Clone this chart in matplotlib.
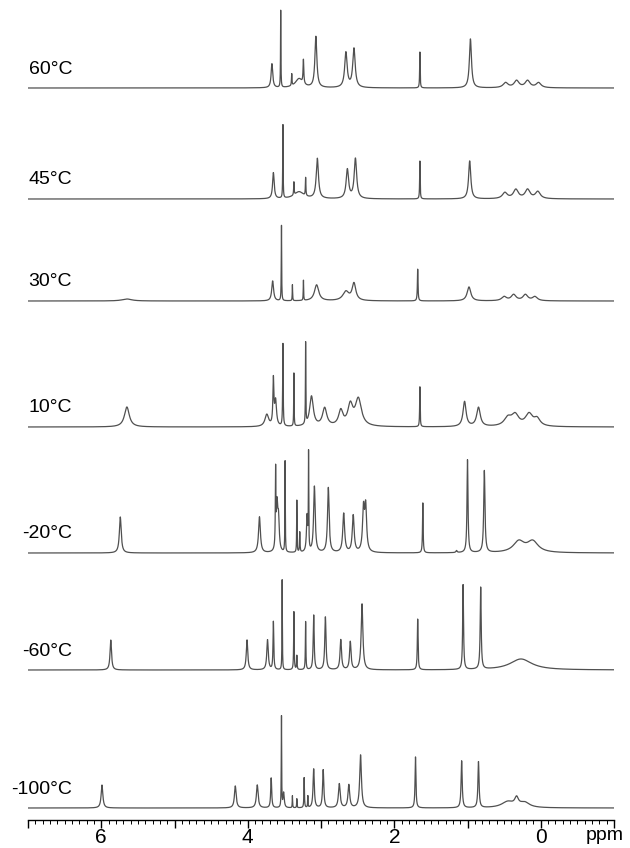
import numpy as np
import matplotlib
matplotlib.use("Agg")
import matplotlib.pyplot as plt
import matplotlib.transforms as mtransforms
from matplotlib.ticker import MultipleLocator

plt.rcParams['font.family'] = ['Liberation Sans', 'DejaVu Sans']

# temperature labels, top to bottom
temps = ['60°C', '45°C', '30°C', '10°C', '-20°C', '-60°C', '-100°C']

# peaks: shift (ppm), height (px), half width (ppm)
pos_60 = [3.67, 3.55, 3.40, 3.30, 3.24, 3.07, 2.66, 2.55, 1.65, 0.96, 0.48, 0.33, 0.18, 0.03]
amp_60 = [24, 77, 12, 9, 24, 51, 35, 39, 36, 49, 5, 7, 7, 5]
wid_60 = [.013, .003, .004, .06, .006, .016, .02, .02, .004, .017, .04, .04, .04, .04]

pos_45 = [3.65, 3.52, 3.37, 3.30, 3.21, 3.05, 2.64, 2.53, 1.65, 0.97, 0.49, 0.34, 0.18, 0.04]
amp_45 = [26, 76, 13, 7, 18, 40, 29, 40, 38, 38, 6, 9, 9, 7]
wid_45 = [.013, .003, .004, .08, .004, .018, .02, .02, .004, .018, .04, .04, .04, .04]

pos_30 = [5.65, 3.66, 3.54, 3.39, 3.24, 3.06, 2.66, 2.55, 1.68, 0.98, 0.50, 0.37, 0.21, 0.08]
amp_30 = [2, 20, 78, 16, 21, 16, 9, 17, 32, 14, 4, 6, 6, 4]
wid_30 = [.08, .015, .003, .003, .003, .035, .05, .03, .005, .03, .04, .04, .04, .04]

pos_10 = [5.65, 3.74, 3.65, 3.62, 3.52, 3.37, 3.21, 3.13, 2.95, 2.73, 2.60, 2.49, 1.65, 1.04, 0.85,
          0.45, 0.35, 0.16, 0.05]
amp_10 = [20, 12, 45, 25, 84, 53, 81, 30, 18, 15, 20, 27, 40, 25, 19, 8, 11, 12, 7]
wid_10 = [.04, .03, .008, .015, .004, .003, .003, .03, .035, .035, .04, .05, .004, .025, .03,
          .06, .06, .06, .05]

pos_m20 = [5.74, 3.84, 3.62, 3.60, 3.58, 3.49, 3.33, 3.29, 3.19, 3.17, 3.09, 2.90, 2.69, 2.56,
           2.42, 2.39, 1.61, 1.15, 1.00, 0.77, 0.30, 0.11]
amp_m20 = [36, 36, 75, 45, 30, 91, 52, 20, 36, 94, 66, 65, 39, 37, 42, 44, 50, 2, 93, 82, 11, 11]
wid_m20 = [.015, .015, .004, .012, .012, .003, .003, .004, .01, .003, .013, .013, .015, .015,
           .015, .015, .005, .01, .008, .01, .09, .09]

pos_m60 = [5.87, 4.01, 3.73, 3.65, 3.53, 3.37, 3.33, 3.21, 3.10, 2.94, 2.73, 2.60, 2.44, 1.68,
           1.06, 0.82, 0.27]
amp_m60 = [30, 30, 30, 48, 90, 58, 14, 48, 55, 53, 30, 28, 66, 51, 85, 82, 11]
wid_m60 = [.012, .012, .012, .006, .003, .004, .004, .004, .008, .01, .012, .012, .014, .006,
           .007, .008, .18]

pos_m100 = [5.99, 4.17, 3.87, 3.68, 3.54, 3.51, 3.39, 3.33, 3.23, 3.18, 3.10, 2.97, 2.75, 2.62,
            2.46, 1.71, 1.08, 0.85, 0.45, 0.33, 0.22]
amp_m100 = [23, 22, 23, 30, 94, 15, 12, 9, 30, 12, 39, 38, 24, 23, 53, 51, 47, 46, 6, 8, 5]
wid_m100 = [.014, .014, .014, .008, .003, .01, .003, .003, .004, .003, .01, .01, .014, .014,
            .014, .007, .009, .009, .1, .03, .08]

peaks = [(pos_60, amp_60, wid_60), (pos_45, amp_45, wid_45), (pos_30, amp_30, wid_30),
         (pos_10, amp_10, wid_10), (pos_m20, amp_m20, wid_m20), (pos_m60, amp_m60, wid_m60),
         (pos_m100, amp_m100, wid_m100)]

# baseline heights of the stacked traces (px above the ppm axis)
offsets = [732, 621, 519, 393, 267, 150, 12]

fig = plt.figure(figsize=(6.3, 8.48), dpi=100)
ax = fig.add_axes([28 / 630, 28 / 848, 586 / 630, 820 / 848])
lab_tr = mtransforms.blended_transform_factory(fig.transFigure, ax.transData)

ppm = np.linspace(7.0, -1.0, 6000)
for lab, (p, a, w), off in zip(temps, peaks, offsets):
    y = np.zeros_like(ppm)
    for c, h, g in zip(p, a, w):
        y += h * g ** 2 / ((ppm - c) ** 2 + g ** 2)
    ax.plot(ppm, y + off, color='#505050', lw=0.9)
    ax.text(72 / 630, off + 19, lab, transform=lab_tr, ha='right', va='center', fontsize=14)

ax.set_xlim(7.0, -1.0)
ax.set_ylim(0, 820)
for s in ['top', 'left', 'right']:
    ax.spines[s].set_visible(False)
ax.spines['bottom'].set_linewidth(1.0)
ax.set_yticks([])
ax.xaxis.set_major_locator(MultipleLocator(1))
ax.xaxis.set_minor_locator(MultipleLocator(0.1))
ax.set_xticklabels(['' if int(round(t)) % 2 else str(int(round(t))) for t in ax.get_xticks()])
ax.tick_params(axis='x', which='major', length=6, width=1, labelsize=15, pad=0)
ax.tick_params(axis='x', which='minor', length=3, width=0.7)
ax.text(0.99, 13 / 848, 'ppm', transform=fig.transFigure, ha='right', va='center', fontsize=14)

fig.savefig('out.png', dpi=100)
